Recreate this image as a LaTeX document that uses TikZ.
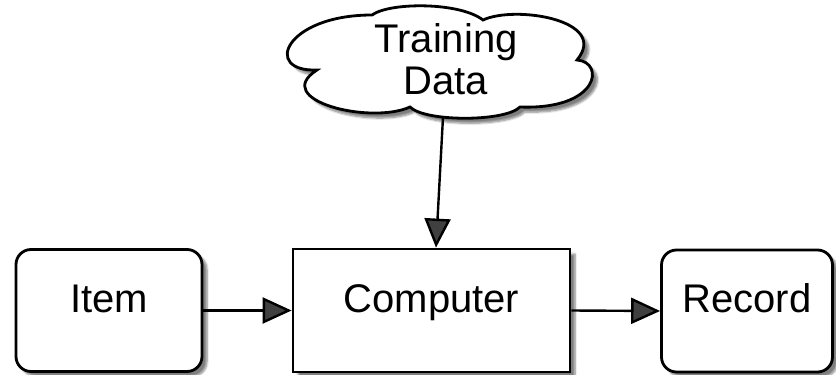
\documentclass[tikz,border=0pt]{standalone}
\usepackage{fontspec}
\setmainfont{Liberation Sans}
\usetikzlibrary{arrows.meta,shadows,shadows.blur}
\begin{document}
\begin{tikzpicture}[x=1pt,y=-1pt,
  shd/.style={blur shadow={shadow xshift=5pt,shadow yshift=-5pt,shadow blur steps=6,shadow opacity=50}},
  boxtxt/.style={font=\fontsize{40}{42}\selectfont,text height=30pt,text depth=27pt,inner sep=0pt},
  roundbox/.style={boxtxt,draw,line width=2.8pt,fill=white,rounded corners=15pt,shd},
  sqbox/.style={boxtxt,draw,line width=2.8pt,fill=white,shd},
  arr/.style={line width=2.4pt,-{Triangle[length=29pt,width=26pt]}},
  cloudline/.style={draw,line width=2.8pt,fill=white,shd}]
\useasboundingbox (0,0) rectangle (836,375);
% cloud outline
\path[cloudline] (317,70)
  .. controls (262,72) and (285,15) .. (372,15)
  .. controls (390,2) and (460,2) .. (483,20)
  .. controls (515,5) and (610,20) .. (577,60)
  .. controls (605,62) and (600,110) .. (520,107)
  .. controls (505,122) and (425,122) .. (410,107)
  .. controls (370,125) and (270,100) .. cycle;
\node[font=\fontsize{40}{42}\selectfont,align=center,inner sep=0pt] (cloud) at (446,59) {Training\\Data};
\coordinate (cloudb) at (443,117);
\node[roundbox,minimum width=186pt,minimum height=122pt] (item) at (109,310.5) {Item};
\node[sqbox,minimum width=277pt,minimum height=123pt] (comp) at (431.5,310.5) {Computer};
\node[roundbox,minimum width=171pt,minimum height=122pt] (rec) at (747,311) {Record};
\draw[arr] (cloudb) -- ([xshift=4.5pt]comp.north);
\draw[arr] (item.east) -- (comp.west);
\draw[arr] (comp.east) -- (rec.west);
\end{tikzpicture}
\end{document}
